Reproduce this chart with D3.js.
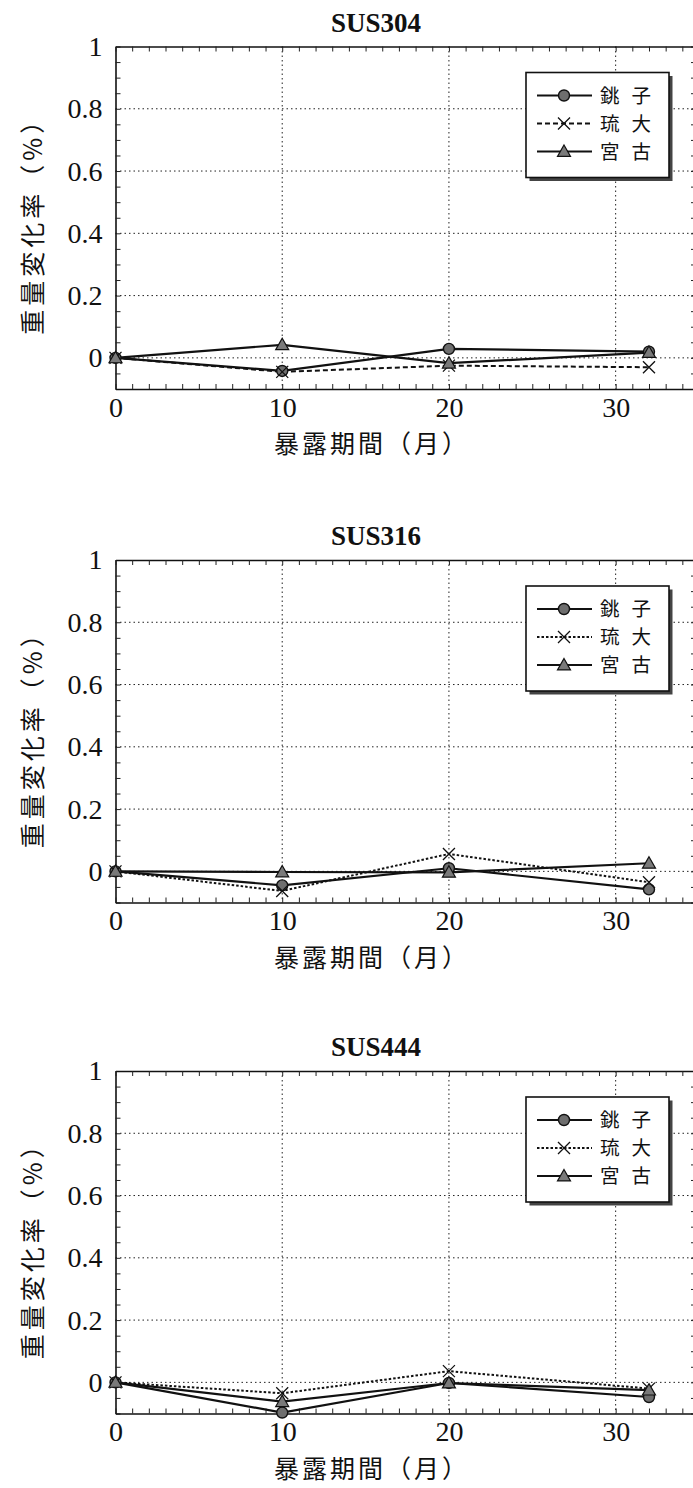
<!DOCTYPE html>
<html>
<head>
<meta charset="utf-8">
<script src="https://cdn.jsdelivr.net/npm/d3@7/dist/d3.min.js"></script>
<style>
  html, body { margin: 0; padding: 0; background: #fff; }
  svg { display: block; }
</style>
</head>
<body>
<svg id="chart" width="693" height="1488"></svg>
<script>
// Exposure months at which each specimen was weighed
const months = [0, 10, 20, 32];
const sites = ["銚子", "琉大", "宮古"];
const panelTitles = ["SUS304", "SUS316", "SUS444"];

// Mass change rate (%) per site, per steel grade
const sus304Choshi = [0, -0.042, 0.029, 0.020];
const sus304Ryudai = [0, -0.045, -0.025, -0.030];
const sus304Miyako = [0, 0.042, -0.017, 0.017];

const sus316Choshi = [0, -0.045, 0.010, -0.058];
const sus316Ryudai = [0, -0.063, 0.056, -0.035];
const sus316Miyako = [0, -0.002, -0.003, 0.026];

const sus444Choshi = [0, -0.097, -0.002, -0.047];
const sus444Ryudai = [0, -0.035, 0.036, -0.020];
const sus444Miyako = [0, -0.062, -0.002, -0.025];

const yTicks = [0, 0.2, 0.4, 0.6, 0.8, 1];
const yTickLabels = ["0", "0.2", "0.4", "0.6", "0.8", "1"];
const xTicks = [0, 10, 20, 30];
const xTickLabels = ["0", "10", "20", "30"];
const xDomain = [0, 35];
const yDomain = [-0.1, 1];

const xTitle = "暴露期間（月）";
const yTitle = "重量変化率（%）";

const panels = [
  { title: panelTitles[0], series: [sus304Choshi, sus304Ryudai, sus304Miyako], dash: "5,3" },
  { title: panelTitles[1], series: [sus316Choshi, sus316Ryudai, sus316Miyako], dash: "2.5,2" },
  { title: panelTitles[2], series: [sus444Choshi, sus444Ryudai, sus444Miyako], dash: "2.5,2" }
];

const svg = d3.select("#chart");
svg.append("rect").attr("width", 693).attr("height", 1488).attr("fill", "#fff");

const serif = "'Liberation Serif', 'Times New Roman', 'Noto Sans CJK JP', serif";
const cjk = "'Noto Sans CJK JP', 'Noto Sans CJK SC', sans-serif";

const plotTops = [46.5, 560, 1071];
const plotHeight = 342.5;
const plotLeft = 115.5;
const plotRight = 699;

const markerKinds = ["circle", "cross", "triangle"];

function drawMarker(g, kind, cx, cy) {
  if (kind === "circle") {
    g.append("circle").attr("cx", cx).attr("cy", cy).attr("r", 5.5)
      .attr("fill", "#6e6e6e").attr("stroke", "#111").attr("stroke-width", 1.4);
  } else if (kind === "cross") {
    const s = 6;
    g.append("path")
      .attr("d", `M${cx - s},${cy - s}L${cx + s},${cy + s}M${cx - s},${cy + s}L${cx + s},${cy - s}`)
      .attr("stroke", "#111").attr("stroke-width", 1.3).attr("fill", "none");
  } else {
    const s = 6.5;
    g.append("path")
      .attr("d", `M${cx},${cy - s}L${cx + s},${cy + s * 0.75}L${cx - s},${cy + s * 0.75}Z`)
      .attr("fill", "#7a7a7a").attr("stroke", "#111").attr("stroke-width", 1.2);
  }
}

panels.forEach((p, i) => {
  const top = plotTops[i];
  const bottom = top + plotHeight;
  const x = d3.scaleLinear().domain(xDomain).range([plotLeft, plotRight]);
  const y = d3.scaleLinear().domain(yDomain).range([bottom, top]);
  const g = svg.append("g");

  // dotted grid
  g.selectAll(".gx").data(xTicks.filter(d => d > 0)).join("line")
    .attr("x1", d => x(d)).attr("x2", d => x(d)).attr("y1", top).attr("y2", bottom)
    .attr("stroke", "#222").attr("stroke-width", 1).attr("stroke-dasharray", "1.5,3");
  g.selectAll(".gy").data(yTicks.filter(d => d < 1)).join("line")
    .attr("x1", plotLeft).attr("x2", plotRight).attr("y1", d => y(d)).attr("y2", d => y(d))
    .attr("stroke", "#222").attr("stroke-width", 1).attr("stroke-dasharray", "1.5,3");

  // minor inward ticks on all four sides
  const yMinor = d3.range(-0.1, 1.0001, 0.05).map(v => +v.toFixed(2));
  const xMinor = d3.range(0, 36, 1);
  const tickStyle = sel => {
    sel.select(".domain").attr("stroke", "#111").attr("stroke-width", 1.6);
    sel.selectAll(".tick line").attr("stroke", "#222").attr("stroke-width", 1);
  };
  g.append("g").attr("transform", `translate(${plotLeft},0)`)
    .call(d3.axisLeft(y).tickValues(yMinor).tickSize(-5).tickSizeOuter(0).tickFormat(""))
    .call(tickStyle);
  g.append("g").attr("transform", `translate(${plotRight},0)`)
    .call(d3.axisRight(y).tickValues(yMinor).tickSize(-8).tickSizeOuter(0).tickFormat(""))
    .call(tickStyle);
  g.append("g").attr("transform", `translate(0,${bottom})`)
    .call(d3.axisBottom(x).tickValues(xMinor).tickSize(-5).tickSizeOuter(0).tickFormat(""))
    .call(tickStyle);
  g.append("g").attr("transform", `translate(0,${top})`)
    .call(d3.axisTop(x).tickValues(xMinor).tickSize(-5).tickSizeOuter(0).tickFormat(""))
    .call(tickStyle);

  // tick labels
  const yLab = g.append("g").attr("transform", `translate(${plotLeft},0)`)
    .call(d3.axisLeft(y).tickValues(yTicks).tickSize(0).tickPadding(13)
      .tickFormat((d, k) => yTickLabels[k]));
  yLab.select(".domain").remove();
  yLab.attr("font-family", null);
  yLab.selectAll("text").attr("font-family", serif).attr("font-size", 28).attr("fill", "#111");

  const xLab = g.append("g").attr("transform", `translate(0,${bottom})`)
    .call(d3.axisBottom(x).tickValues(xTicks).tickSize(0).tickPadding(8)
      .tickFormat((d, k) => xTickLabels[k]));
  xLab.select(".domain").remove();
  xLab.attr("font-family", null);
  xLab.selectAll("text").attr("font-family", serif).attr("font-size", 28).attr("fill", "#111");

  // titles
  g.append("text").attr("x", 376).attr("y", top - 15).attr("text-anchor", "middle")
    .attr("font-family", serif).attr("font-weight", "bold").attr("font-size", 27)
    .attr("fill", "#111").text(p.title);
  g.append("text").attr("x", 372).attr("y", bottom + 64).attr("text-anchor", "middle")
    .attr("font-family", cjk).attr("font-size", 25).attr("letter-spacing", 3)
    .attr("fill", "#111").text(xTitle);
  g.append("text").attr("transform", `translate(42,${(top + bottom) / 2 + 2}) rotate(-90)`)
    .attr("text-anchor", "middle")
    .attr("font-family", cjk).attr("font-size", 25).attr("letter-spacing", 4)
    .attr("fill", "#111").text(yTitle);

  // data lines and markers
  const line = d3.line().x((d, k) => x(months[k])).y(d => y(d));
  p.series.forEach((vals, s) => {
    g.append("path").datum(vals).attr("d", line).attr("fill", "none")
      .attr("stroke", "#111").attr("stroke-width", s === 1 ? 2 : 2.2)
      .attr("stroke-dasharray", s === 1 ? p.dash : null);
  });
  p.series.forEach((vals, s) => {
    vals.forEach((v, k) => drawMarker(g, markerKinds[s], x(months[k]), y(v)));
  });

  // legend
  const lx = 526, ly = top + 26, lw = 143, lh = 105;
  g.append("rect").attr("x", lx + 3.5).attr("y", ly + 3.5).attr("width", lw).attr("height", lh)
    .attr("fill", "#444");
  g.append("rect").attr("x", lx).attr("y", ly).attr("width", lw).attr("height", lh)
    .attr("fill", "#fff").attr("stroke", "#111").attr("stroke-width", 1.6);
  const rowY = [top + 49, top + 77, top + 105];
  sites.forEach((name, s) => {
    const ry = rowY[s];
    g.append("line").attr("x1", 537).attr("x2", 592).attr("y1", ry).attr("y2", ry)
      .attr("stroke", "#111").attr("stroke-width", s === 1 ? 2 : 2.2)
      .attr("stroke-dasharray", s === 1 ? p.dash : null);
    drawMarker(g, markerKinds[s], 564, ry);
    g.append("text").attr("x", 600).attr("y", ry).attr("dy", "0.36em")
      .attr("font-family", cjk).attr("font-size", 19.5).attr("letter-spacing", 12)
      .attr("fill", "#111").text(name);
  });
});
</script>
</body>
</html>
